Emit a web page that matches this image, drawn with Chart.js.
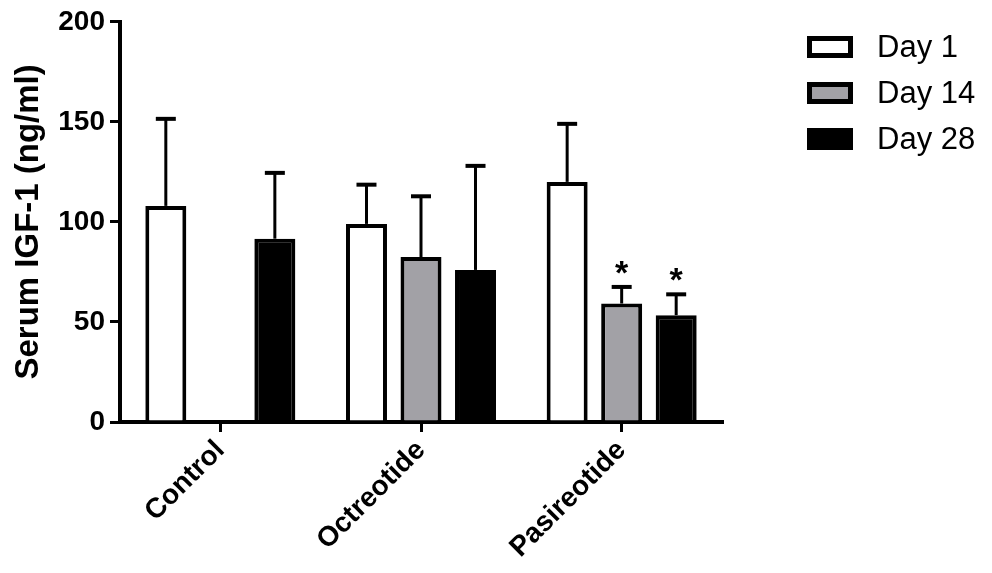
<!DOCTYPE html>
<html>
<head>
<meta charset="utf-8">
<script src="https://cdn.jsdelivr.net/npm/chart.js@4.4.1/dist/chart.umd.min.js"></script>
<style>
  html, body { margin: 0; padding: 0; background: #ffffff; }
  #wrap { width: 992px; height: 573px; }
</style>
</head>
<body>
<div id="wrap"><canvas id="c" width="992" height="573"></canvas></div>
<script>
// ---- data ----
const categories = ['Control', 'Octreotide', 'Pasireotide'];
const seriesLabels = ['Day 1', 'Day 14', 'Day 28'];
const day1 = [108, 99, 120];
const day14 = [null, 82.4, 59.2];
const day28 = [91.6, 76, 53.4];
const day1SD = [43.5, 19.6, 29];
const day14SD = [null, 30.4, 8.3];
const day28SD = [32.9, 52, 10.4];
const day1Sig = ['', '', ''];
const day14Sig = ['', '', '*'];
const day28Sig = ['', '', '*'];
const yTicks = [0, 50, 100, 150, 200];
const yTitle = 'Serum IGF-1 (ng/ml)';

const fills = ['#ffffff', '#a2a1a6', '#000000'];

const errorBars = {
  id: 'errorBars',
  afterDatasetsDraw(chart) {
    const ctx = chart.ctx;
    const ys = chart.scales.y;
    chart.data.datasets.forEach((ds, di) => {
      const meta = chart.getDatasetMeta(di);
      meta.data.forEach((el, i) => {
        const v = ds.data[i];
        const sd = ds.sd[i];
        if (v == null || sd == null) return;
        const yTop = ys.getPixelForValue(v + sd);
        ctx.save();
        ctx.strokeStyle = '#000';
        ctx.lineWidth = 3;
        ctx.beginPath();
        ctx.moveTo(el.x, el.y);
        ctx.lineTo(el.x, yTop);
        ctx.stroke();
        ctx.lineWidth = 4;
        ctx.beginPath();
        ctx.moveTo(el.x - 10, yTop);
        ctx.lineTo(el.x + 10, yTop);
        ctx.stroke();
        if (ds.sig[i]) {
          ctx.fillStyle = '#000';
          ctx.font = 'bold 34px "Liberation Sans", Arial, sans-serif';
          ctx.textAlign = 'center';
          ctx.textBaseline = 'alphabetic';
          ctx.fillText(ds.sig[i], el.x, yTop - 3);
        }
        ctx.restore();
      });
    });
  }
};

const customLegend = {
  id: 'customLegend',
  afterDraw(chart) {
    const ctx = chart.ctx;
    const x0 = 807, w = 46, h = 22, tops = [36, 82, 128];
    chart.data.datasets.forEach((ds, i) => {
      const y = tops[i];
      ctx.save();
      ctx.fillStyle = '#000';
      ctx.fillRect(x0, y, w, h);
      ctx.fillStyle = ds.backgroundColor;
      ctx.fillRect(x0 + 5, y + 5, w - 10, h - 10);
      ctx.fillStyle = '#000';
      ctx.font = '31px "Liberation Sans", Arial, sans-serif';
      ctx.textAlign = 'left';
      ctx.textBaseline = 'middle';
      ctx.fillText(ds.label, 877, y + h / 2 + 1);
      ctx.restore();
    });
  }
};

const datasets = [day1, day14, day28].map((d, i) => ({
  label: seriesLabels[i],
  data: d,
  sd: [day1SD, day14SD, day28SD][i],
  sig: [day1Sig, day14Sig, day28Sig][i],
  backgroundColor: fills[i],
  borderColor: '#000000',
  borderWidth: 4,
  borderSkipped: 'start',
  categoryPercentage: 0.815,
  barPercentage: 0.752
}));

new Chart(document.getElementById('c'), {
  type: 'bar',
  data: { labels: categories, datasets },
  options: {
    responsive: false,
    devicePixelRatio: 1,
    animation: false,
    layout: { padding: { top: 21, right: 270, left: 0, bottom: 0 } },
    plugins: { legend: { display: false }, tooltip: { enabled: false } },
    scales: {
      x: {
        grid: { display: true, drawOnChartArea: false, offset: false, tickLength: 10, lineWidth: 3, color: '#000' },
        border: { display: true, color: '#000', width: 4 },
        ticks: {
          color: '#000',
          minRotation: 45, maxRotation: 45,
          padding: 2,
          font: { family: '"Liberation Sans", Arial, sans-serif', weight: 'bold', size: 28 }
        },
        afterFit(s) { s.height = 151; }
      },
      y: {
        min: 0, max: 200,
        afterBuildTicks(s) { s.ticks = yTicks.map(v => ({ value: v })); },
        grid: { display: true, drawOnChartArea: false, tickLength: 10, lineWidth: 3, color: '#000' },
        border: { display: true, color: '#000', width: 4 },
        ticks: {
          color: '#000',
          padding: 5,
          font: { family: '"Liberation Sans", Arial, sans-serif', weight: 'bold', size: 28 }
        },
        title: {
          display: true,
          text: yTitle,
          color: '#000',
          padding: { top: 9, bottom: 0 },
          font: { family: '"Liberation Sans", Arial, sans-serif', weight: 'bold', size: 33, lineHeight: 1.2 }
        },
        afterFit(s) { s.width = 120; }
      }
    }
  },
  plugins: [errorBars, customLegend]
});
</script>
</body>
</html>
